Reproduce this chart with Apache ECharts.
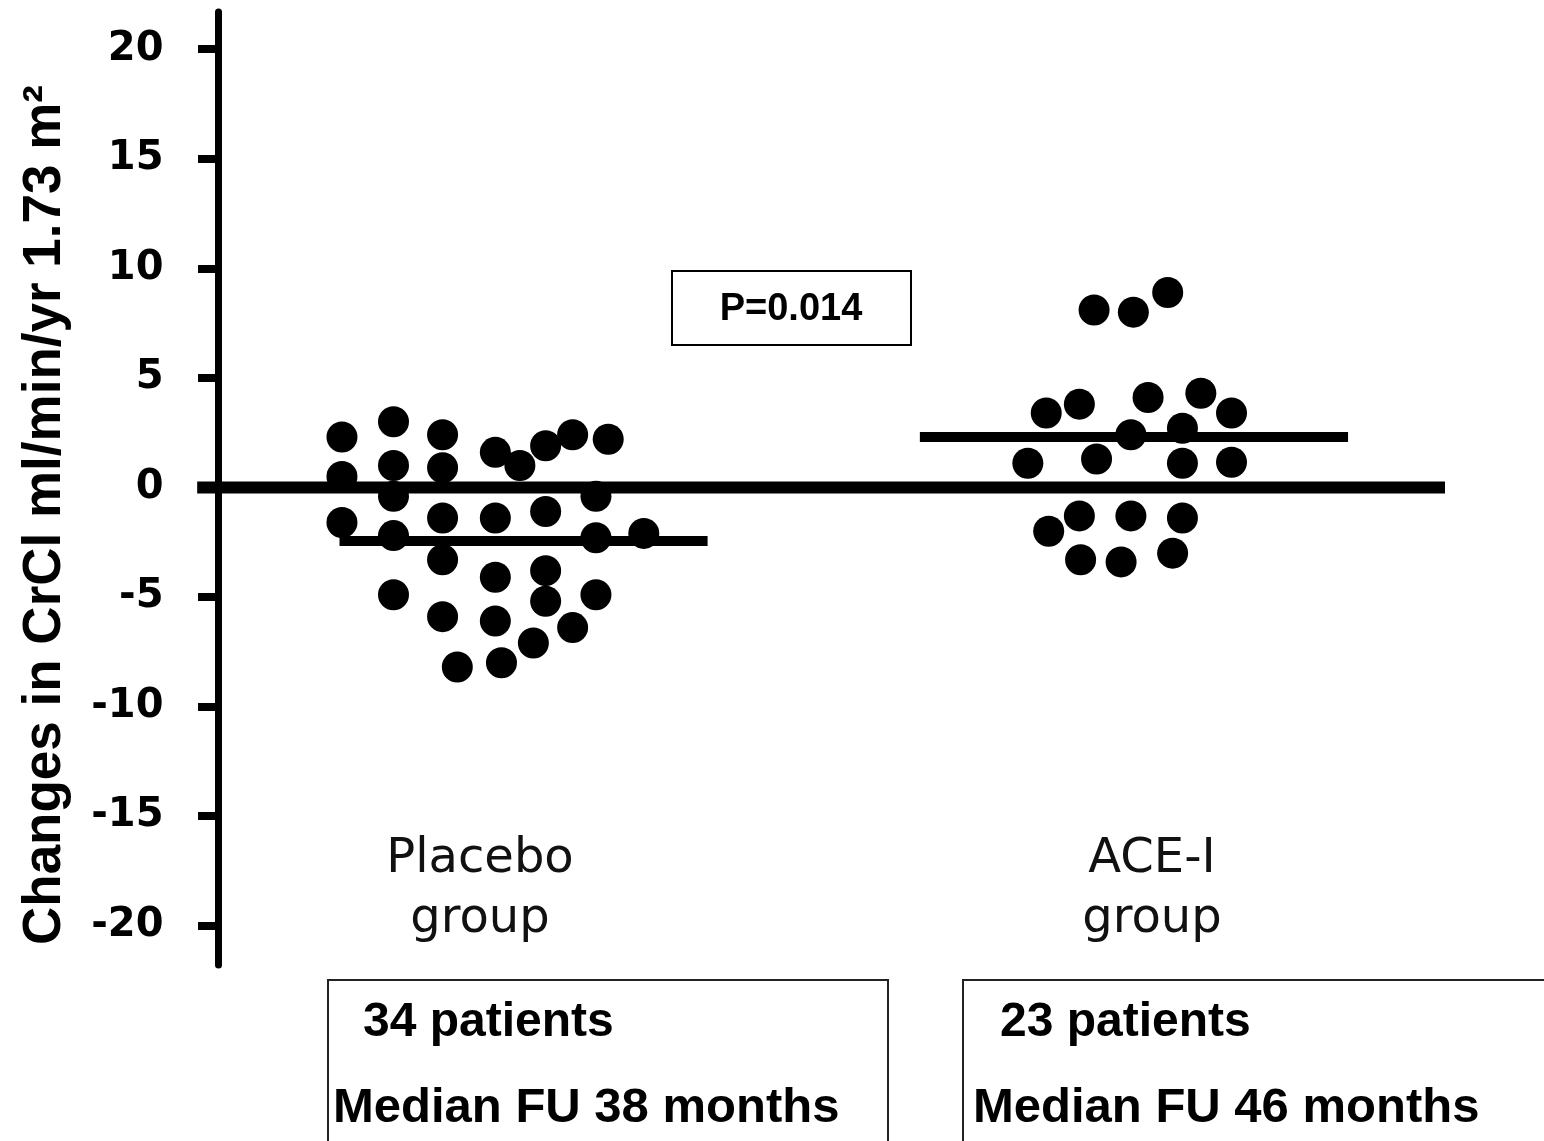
<!DOCTYPE html>
<html>
<head>
<meta charset="utf-8">
<script src="https://cdn.jsdelivr.net/npm/echarts@6/dist/echarts.min.js"></script>
<style>
html,body{margin:0;padding:0;background:#fff;}
#chart{width:1544px;height:1141px;}
</style>
</head>
<body>
<div id="chart"></div>
<script>
// ---- Data ----
const yTicks = [-20, -15, -10, -5, 0, 5, 10, 15, 20];
const groupNames = ['Placebo\ngroup', 'ACE-I\ngroup'];
// Placebo group points: [jitter position, change in CrCl]
const placeboPoints = [
  [10.1, 2.3], [10.1, 0.5], [10.1, -1.6],
  [14.3, 3.0], [14.3, 1.0], [14.3, -0.4], [14.3, -2.2], [14.3, -4.9],
  [18.3, 2.4], [18.3, 0.9], [18.3, -1.4], [18.3, -3.3], [18.3, -5.9],
  [19.5, -8.2],
  [22.6, 1.6], [22.6, -1.4], [22.6, -4.1], [22.6, -6.1],
  [23.1, -8.0],
  [24.6, 1.0],
  [26.7, 1.9], [26.7, -1.1], [26.7, -3.8], [26.7, -5.2],
  [25.7, -7.1],
  [28.9, 2.4], [28.9, -6.4],
  [30.8, -0.4], [30.8, -2.3], [30.8, -4.9],
  [31.8, 2.2],
  [34.7, -2.1]
];
// ACE-I group points
const acePoints = [
  [71.4, 8.1], [74.6, 8.0], [77.4, 8.9],
  [67.5, 3.4], [70.2, 3.8], [75.8, 4.1], [80.1, 4.3], [82.6, 3.4],
  [78.6, 2.7], [74.4, 2.4],
  [66.0, 1.1], [71.6, 1.3], [78.6, 1.1], [82.6, 1.15],
  [70.2, -1.3], [74.4, -1.3], [78.6, -1.4],
  [67.7, -2.0], [70.3, -3.3], [73.6, -3.4], [77.8, -3.0]
];
const placeboMedian = -2.45;
const aceMedian = 2.3;
const placeboMedianSpan = [9.9, 39.9];
const aceMedianSpan = [57.2, 92.1];
const zeroLineSpan = [-1.7, 100];
const pValueText = 'P=0.014';
const yTitle = 'Changes in CrCl ml/min/yr 1.73 m²';
const boxTexts = [
  ['34 patients', 'Median FU 38 months'],
  ['23 patients', 'Median FU 46 months']
];

// ---- Chart ----
const chart = echarts.init(document.getElementById('chart'), null, {renderer: 'canvas'});
const option = {
  backgroundColor: '#ffffff',
  animation: false,
  grid: {left: 193.5, right: 99, top: 12, bottom: 176, containLabel: false},
  xAxis: {
    type: 'value', min: -2, max: 100,
    show: false
  },
  yAxis: {
    type: 'value', min: -21.8, max: 21.7,
    axisLine: {show: true, onZero: true, lineStyle: {color: '#000', width: 7}},
    axisTick: {show: true, inside: false, length: 20, customValues: yTicks, lineStyle: {color: '#000', width: 8}},
    axisLabel: {
      show: true, customValues: yTicks, margin: 30,
      fontFamily: 'DejaVu Sans', fontWeight: 'bold', fontSize: 40, color: '#000',
      formatter: v => String(v)
    },
    splitLine: {show: false}
  },
  series: [
    {
      type: 'line', data: [[zeroLineSpan[0], 0], [zeroLineSpan[1], 0]],
      symbol: 'none', lineStyle: {color: '#000', width: 12}, z: 2
    },
    {
      type: 'line', data: [[placeboMedianSpan[0], placeboMedian], [placeboMedianSpan[1], placeboMedian]],
      symbol: 'none', lineStyle: {color: '#000', width: 10}, z: 2
    },
    {
      type: 'line', data: [[aceMedianSpan[0], aceMedian], [aceMedianSpan[1], aceMedian]],
      symbol: 'none', lineStyle: {color: '#000', width: 10}, z: 2
    },
    {
      type: 'scatter', data: placeboPoints, symbol: 'circle', symbolSize: 31,
      itemStyle: {color: '#000', opacity: 1}, z: 3
    },
    {
      type: 'scatter', data: acePoints, symbol: 'circle', symbolSize: 31,
      itemStyle: {color: '#000', opacity: 1}, z: 3
    }
  ],
  graphic: [
    {
      type: 'text', x: 45, y: 515, rotation: Math.PI / 2,
      style: {text: yTitle, font: 'bold 53px "Liberation Sans", Arial, sans-serif', fill: '#000',
        align: 'center', verticalAlign: 'middle'}
    },
    {
      type: 'rect', shape: {x: 672, y: 271, width: 239, height: 74},
      style: {fill: '#fff', stroke: '#000', lineWidth: 2}, z: 10
    },
    {
      type: 'text', x: 791, y: 310,
      style: {text: pValueText, font: 'bold 38px "Liberation Sans", Arial, sans-serif', fill: '#000',
        align: 'center', verticalAlign: 'middle'}, z: 11
    },
    {
      type: 'text', x: 480, y: 890,
      style: {text: groupNames[0], font: '48px "DejaVu Sans", sans-serif', fill: '#111', lineHeight: 60,
        align: 'center', verticalAlign: 'middle'}
    },
    {
      type: 'text', x: 1152, y: 890,
      style: {text: groupNames[1], font: '48px "DejaVu Sans", sans-serif', fill: '#111', lineHeight: 60,
        align: 'center', verticalAlign: 'middle'}
    },
    {
      type: 'rect', shape: {x: 328, y: 980, width: 560, height: 200},
      style: {fill: 'none', stroke: '#222', lineWidth: 2}
    },
    {
      type: 'rect', shape: {x: 963, y: 980, width: 620, height: 200},
      style: {fill: 'none', stroke: '#222', lineWidth: 2}
    },
    {
      type: 'text', x: 363, y: 1023,
      style: {text: boxTexts[0][0], font: 'bold 48px "Liberation Sans", Arial, sans-serif', fill: '#000',
        align: 'left', verticalAlign: 'middle'}
    },
    {
      type: 'text', x: 333, y: 1108,
      style: {text: boxTexts[0][1], font: 'bold 49px "Liberation Sans", Arial, sans-serif', fill: '#000',
        align: 'left', verticalAlign: 'middle'}
    },
    {
      type: 'text', x: 1000, y: 1023,
      style: {text: boxTexts[1][0], font: 'bold 48px "Liberation Sans", Arial, sans-serif', fill: '#000',
        align: 'left', verticalAlign: 'middle'}
    },
    {
      type: 'text', x: 973, y: 1108,
      style: {text: boxTexts[1][1], font: 'bold 49px "Liberation Sans", Arial, sans-serif', fill: '#000',
        align: 'left', verticalAlign: 'middle'}
    }
  ]
};
chart.setOption(option);
</script>
</body>
</html>
